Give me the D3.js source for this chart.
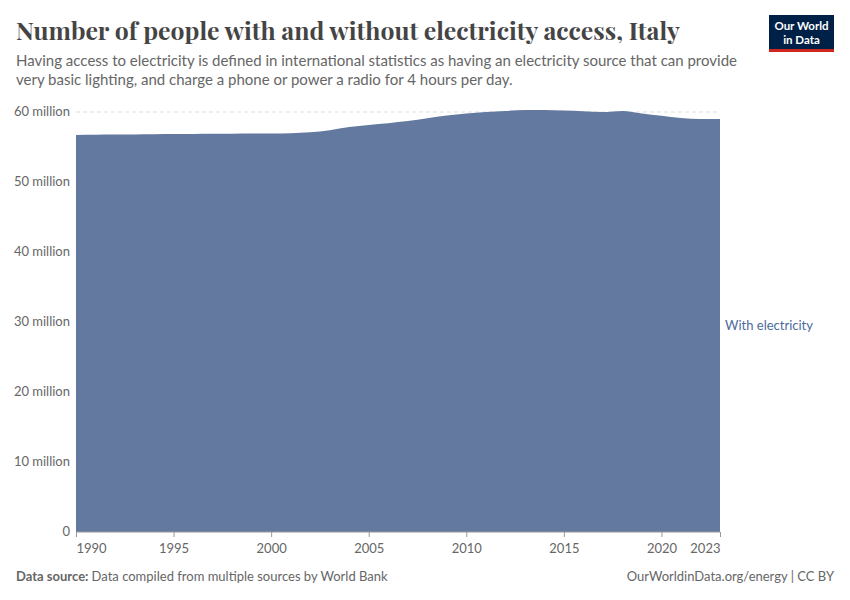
<!DOCTYPE html>
<html>
<meta charset="utf-8">
<head>
<script src="https://cdnjs.cloudflare.com/ajax/libs/d3/7.8.5/d3.min.js"></script>
</head>
<style>
body { margin: 0; background: #fff; font-family: Lato, sans-serif; }
.tick text { font-family: Lato, sans-serif; font-size: 13px; fill: #666; }
</style>
<body>
<svg id="canvas" width="850" height="600"></svg>
<script>
// years and population with electricity (millions)
var years = d3.range(1990, 2024);
var withElec = [56.72, 56.75, 56.78, 56.8, 56.82, 56.84, 56.86, 56.88, 56.9, 56.92,
                56.94, 56.97, 57.1, 57.4, 57.85, 58.15, 58.4, 58.7, 59.1, 59.5,
                59.8, 60.0, 60.15, 60.28, 60.3, 60.2, 60.1, 60.0, 60.15, 59.8,
                59.45, 59.15, 59.0, 59.0];
var yTicks = [0, 10, 20, 30, 40, 50, 60];
var xTicks = [1990, 1995, 2000, 2005, 2010, 2015, 2020, 2023];

const svg = d3.select('#canvas');
const mLeft = 76, mRight = 720, mTop = 112, mBottom = 532;

const x = d3.scaleLinear().domain([1990, 2023]).range([mLeft, mRight]);
const y = d3.scaleLinear().domain([0, 60]).range([mBottom, mTop]);

// title + subtitle
svg.append('text').attr('x', 16).attr('y', 40)
   .text('Number of people with and without electricity access, Italy')
   .attr('textLength', 664).attr('lengthAdjust', 'spacingAndGlyphs')
   .style('font-family', '"Playfair Display", "Liberation Serif", serif')
   .style('font-weight', 'bold')
   .style('font-size', '25px').style('fill', '#444');
svg.append('text').attr('x', 16).attr('y', 66)
   .text('Having access to electricity is defined in international statistics as having an electricity source that can provide')
   .style('font-size', '15px').style('fill', '#666');
svg.append('text').attr('x', 16).attr('y', 85)
   .text('very basic lighting, and charge a phone or power a radio for 4 hours per day.')
   .style('font-size', '15px').style('fill', '#666');

// logo
svg.append('rect').attr('x', 769).attr('y', 15).attr('width', 65).attr('height', 34).attr('fill', '#002147');
svg.append('rect').attr('x', 769).attr('y', 49).attr('width', 65).attr('height', 3).attr('fill', '#ce261e');
svg.append('text').attr('x', 801.5).attr('y', 30).attr('text-anchor', 'middle')
   .text('Our World').style('font-size', '11.5px').style('font-weight', 'bold').style('fill', '#fff');
svg.append('text').attr('x', 801.5).attr('y', 44).attr('text-anchor', 'middle')
   .text('in Data').style('font-size', '11.5px').style('font-weight', 'bold').style('fill', '#fff');

// gridlines
svg.append('g').selectAll('line').data(yTicks.filter(d => d > 0)).join('line')
   .attr('x1', mLeft).attr('x2', mRight)
   .attr('y1', d => y(d)).attr('y2', d => y(d))
   .attr('stroke', '#ddd').attr('stroke-dasharray', '4,3');

// area
const area = d3.area()
    .x((d, i) => x(years[i]))
    .y0(y(0))
    .y1(d => y(d))
    .curve(d3.curveMonotoneX);
svg.append('path').datum(withElec).attr('d', area).attr('fill', '#6379a0');

// y axis labels
const yAxis = d3.axisLeft(y).tickValues(yTicks).tickSize(0).tickPadding(6)
    .tickFormat(d => d === 0 ? '0' : d + ' million');
svg.append('g').attr('transform', `translate(${mLeft},-0.5)`).call(yAxis)
   .call(g => g.select('.domain').remove());

// x axis
const xAxis = d3.axisBottom(x).tickValues(xTicks).tickSize(5).tickPadding(7).tickFormat(d3.format('d'));
svg.append('g').attr('transform', `translate(0,${mBottom})`).call(xAxis)
   .call(g => g.select('.domain').attr('stroke', '#999').attr('d', `M${mLeft},0H${mRight}`))
   .call(g => g.selectAll('.tick line').attr('stroke', '#999'))
   .call(g => g.selectAll('.tick text')
       .attr('text-anchor', d => d === 1990 ? 'start' : d === 2023 ? 'end' : 'middle'));

// series label
svg.append('text').attr('x', 725).attr('y', 330)
   .text('With electricity').style('font-size', '13px').style('fill', '#4c6a9c');

// footer
const foot = svg.append('text').attr('x', 16).attr('y', 581).style('font-size', '13px').style('fill', '#666');
foot.append('tspan').text('Data source: ').style('font-weight', 'bold');
foot.append('tspan').text('Data compiled from multiple sources by World Bank');
svg.append('text').attr('x', 834).attr('y', 581).attr('text-anchor', 'end')
   .text('OurWorldinData.org/energy | CC BY').style('font-size', '13px').style('fill', '#666');
</script>
</body>
</html>
